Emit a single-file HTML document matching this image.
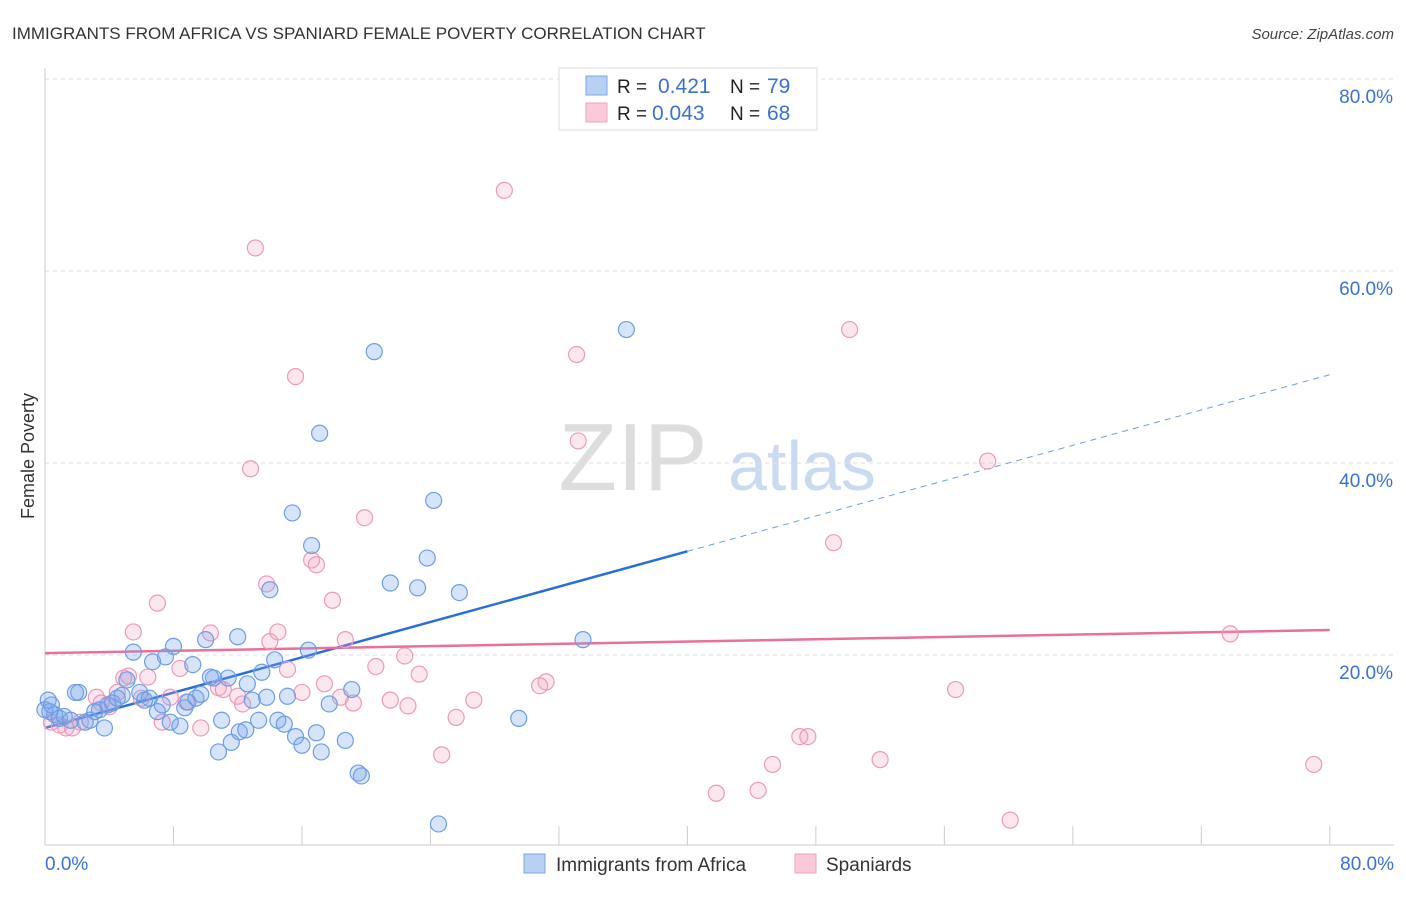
<!DOCTYPE html>
<html><head><meta charset="utf-8"><style>
body{margin:0;background:#fff;font-family:"Liberation Sans",sans-serif;}
svg text{font-family:"Liberation Sans",sans-serif;}
</style></head><body>
<svg id="chart" width="1406" height="892" xmlns="http://www.w3.org/2000/svg">
<text x="12" y="39" font-size="17" fill="#333">IMMIGRANTS FROM AFRICA VS SPANIARD FEMALE POVERTY CORRELATION CHART</text>
<text x="1394" y="39" font-size="15" fill="#444" text-anchor="end" font-style="italic">Source: ZipAtlas.com</text>
<g>
<text x="633" y="490" font-size="96" fill="#ddd" text-anchor="middle" font-family="Liberation Serif">ZIP</text>
<text x="802" y="490" font-size="70" fill="#c9daf3" text-anchor="middle">atlas</text>
</g>
<g id="grid"></g><g id="axes"></g><g id="lines"></g><g id="pts"></g>
<text transform="translate(34,456) rotate(-90)" font-size="18" fill="#333" text-anchor="middle">Female Poverty</text>
<g>
<rect x="559" y="68" width="258" height="62" fill="#fff" stroke="#ddd"/>
<rect x="586" y="76" width="21" height="19" fill="#b7d0f3" stroke="#7ea6e6"/>
<rect x="586" y="103" width="21" height="19" fill="#fbc9d8" stroke="#eea3bd"/>
<text x="617" y="93" font-size="19" fill="#222">R = </text><text x="658" y="93" font-size="21" fill="#3a72d0">0.421</text>
<text x="730" y="93" font-size="19" fill="#222">N = </text><text x="767" y="93" font-size="21" fill="#3a72d0">79</text>
<text x="617" y="120" font-size="19" fill="#222">R = </text><text x="652" y="120" font-size="21" fill="#3a72d0">0.043</text>
<text x="730" y="120" font-size="19" fill="#222">N = </text><text x="767" y="120" font-size="21" fill="#3a72d0">68</text>
</g>
<g>
<rect x="524" y="854" width="21" height="19" fill="#b7d0f3" stroke="#7ea6e6"/>
<text x="556" y="871" font-size="19" fill="#333">Immigrants from Africa</text>
<rect x="795" y="854" width="21" height="19" fill="#fbc9d8" stroke="#eea3bd"/>
<text x="826" y="871" font-size="19" fill="#333">Spaniards</text>
</g>
</svg>
<script>
const yTicks=[20,40,60,80];
const xTickVals=[0,8,16,24,32,40,48,56,64,72,80];
const blueX=[0.3,0.6,0.9,1.2,1.6,1.9,2.1,2.5,2.8,3.1,3.4,3.7,3.9,4.2,4.5,4.8,5.1,5.5,5.9,6.2,6.5,6.7,7.0,7.3,7.5,7.8,8.0,8.4,8.7,8.9,9.2,9.4,9.7,10.0,10.3,10.5,10.8,11.0,11.4,11.6,12.0,12.1,12.5,12.6,12.9,13.3,13.5,13.8,14.0,14.3,14.5,14.9,15.1,15.4,15.6,16.0,16.4,16.6,16.9,17.1,17.2,17.7,18.7,19.1,19.5,19.7,20.5,21.5,23.2,23.8,24.2,24.5,25.8,29.5,33.5,36.2,0,0.2,0.4];
const blueY=[14.1,13.8,13.4,13.6,13.2,16.1,16.1,13.0,13.2,14.1,14.3,12.4,14.8,15.0,15.5,15.8,17.4,20.3,16.1,15.3,15.5,19.3,14.1,14.8,19.8,13.0,20.9,12.6,14.5,15.1,19.0,15.5,15.9,21.6,17.7,17.6,9.9,13.2,17.6,10.9,21.9,12.0,12.2,17.0,15.3,13.2,18.2,15.6,26.8,19.5,13.2,12.8,15.7,34.8,11.5,10.6,20.5,31.4,11.9,43.1,9.9,14.9,11.1,16.4,7.7,7.4,51.6,27.5,27.0,30.1,36.1,2.4,26.5,13.4,21.6,53.9,14.3,15.3,14.8];
const pinkX=[0.4,0.9,1.3,1.7,2.2,3.2,3.5,4.0,4.5,4.9,5.2,5.5,6.0,6.4,7.0,7.3,7.8,8.4,8.8,9.7,10.3,10.8,11.1,12.0,12.3,12.8,13.1,13.8,14.0,14.5,15.1,15.6,16.0,16.6,16.9,17.4,17.9,18.4,18.7,19.2,19.9,20.6,21.5,22.4,22.6,23.3,24.7,25.6,26.7,28.6,30.8,31.2,33.1,33.2,41.8,44.4,45.3,47.0,47.5,49.1,50.1,52.0,56.7,58.7,60.1,73.8,79.0];
const pinkY=[13.0,12.7,12.4,12.4,13.0,15.6,15.0,14.6,16.1,17.6,17.8,22.4,15.5,17.7,25.4,13.0,15.6,18.6,15.1,12.4,22.3,16.6,16.4,15.7,14.9,39.4,62.4,27.4,21.4,22.4,18.5,49.0,16.1,29.9,29.4,17.0,25.7,15.6,21.6,15.0,34.3,18.8,15.3,19.9,14.7,18.0,9.6,13.5,15.3,68.4,16.8,17.2,51.3,42.3,5.6,5.9,8.6,11.5,11.5,31.7,53.9,9.1,16.4,40.2,2.8,22.2,8.6];
const blueFit=[12.4,0.46];
const pinkFit=[20.2,0.03];
const NS="http://www.w3.org/2000/svg";
const X=v=>45+v*16.06, Y=v=>847-v*9.6;
function mk(t,a,p){const e=document.createElementNS(NS,t);for(const k in a)e.setAttribute(k,a[k]);p.appendChild(e);return e;}
const grid=document.getElementById('grid'),axes=document.getElementById('axes'),lines=document.getElementById('lines'),pts=document.getElementById('pts');
yTicks.forEach(t=>{const l=mk('line',{x1:45,x2:1394,y1:Y(t),y2:Y(t),stroke:'#ddd','stroke-dasharray':'4,4'},grid);


const tx=mk('text',{x:1393,y:Y(t)+24,'font-size':19,fill:'#3a72d0','text-anchor':'end'},axes);tx.textContent=t.toFixed(1)+'%';

});
const ax=mk('line',{x1:45,x2:1394,y1:845,y2:845,stroke:'#ccc'},axes);


const ay=mk('line',{x1:45,x2:45,y1:68,y2:845,stroke:'#ccc'},axes);


xTickVals.forEach(t=>{const l=mk('line',{x1:X(t),x2:X(t),y1:826,y2:845,stroke:'#ccc'},axes);

});
[[0,'start',45],[80,'end',1394]].forEach(d=>{const tx=mk('text',{x:d[2],y:870,'font-size':19,fill:'#3a72d0','text-anchor':d[1]},axes);tx.textContent=d[0].toFixed(1)+'%';

});
function pointsFor(xs,ys,fill,stroke,name){xs.forEach((x,i)=>{const c=mk('circle',{cx:X(x),cy:Y(ys[i]),r:8,fill:fill,stroke:stroke,'stroke-width':1.2},pts);

});}
pointsFor(pinkX,pinkY,'rgba(245,160,190,0.25)','#eb9ab8','spaniards-point');
pointsFor(blueX,blueY,'rgba(120,165,235,0.3)','#6d9de4','africa-point');
let l1=mk('line',{x1:X(0),y1:Y(blueFit[0]),x2:X(40),y2:Y(blueFit[0]+blueFit[1]*40),stroke:'#2a6fd8','stroke-width':2.5},lines);


let l2=mk('line',{x1:X(40),y1:Y(blueFit[0]+blueFit[1]*40),x2:X(80),y2:Y(blueFit[0]+blueFit[1]*80),stroke:'#6d9de4','stroke-width':1,'stroke-dasharray':'6,5'},lines);


let l3=mk('line',{x1:X(0),y1:Y(pinkFit[0]),x2:X(80),y2:Y(pinkFit[0]+pinkFit[1]*80),stroke:'#e8709a','stroke-width':2.5},lines);


</script>
</body></html>
